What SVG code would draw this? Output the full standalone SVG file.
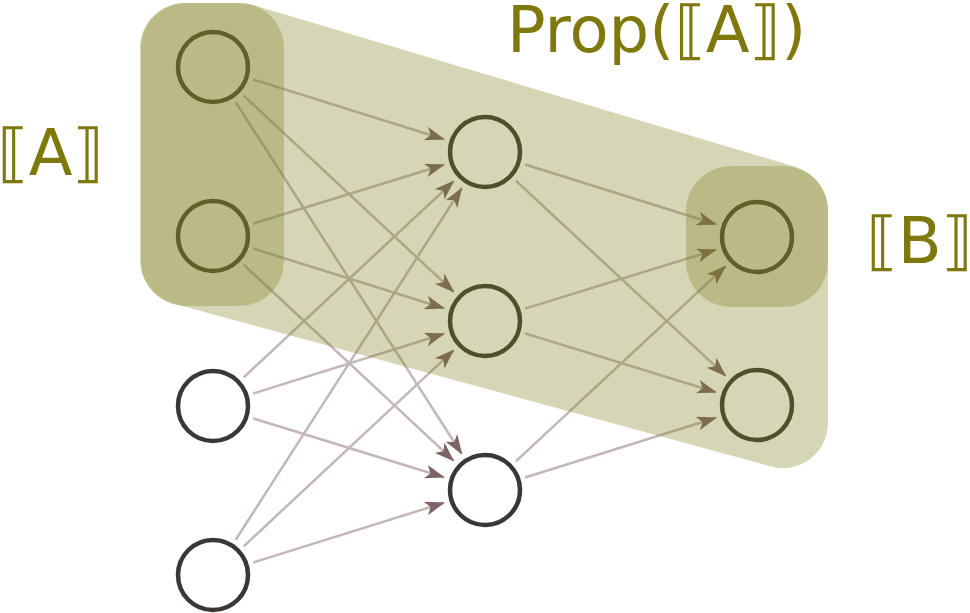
<svg xmlns="http://www.w3.org/2000/svg" width="970" height="613" viewBox="0 0 970 613">
<style>
.edge{stroke:#c3b7b7;stroke-width:2.5;fill:none;marker-end:url(#ah)}
.node{fill:#ffffff;stroke:#3b3735;stroke-width:4.5}
.ov{fill:#7f7f1e;fill-opacity:0.32}
.lbl{font-family:"DejaVu Sans",sans-serif;font-size:64px;fill:#7f780c}
</style>
<defs>
<marker id="ah" markerUnits="userSpaceOnUse" markerWidth="20" markerHeight="14" viewBox="0 0 20 14" refX="19" refY="7" orient="auto">
<path d="M0,0 L20,7 L0,14 L5,7 z" fill="#7d6363"/>
</marker>
</defs>
<rect width="970" height="613" fill="#ffffff"/>
<g id="connectors">
<line class="edge" x1="253.1" y1="79.5" x2="444" y2="139.2"/>
<line class="edge" x1="243.7" y1="95.7" x2="453.6" y2="291.7"/>
<line class="edge" x1="235.7" y1="102.3" x2="461.7" y2="453.8"/>
<line class="edge" x1="253.1" y1="223.6" x2="443.9" y2="164.7"/>
<line class="edge" x1="253.1" y1="248.5" x2="444" y2="308.2"/>
<line class="edge" x1="243.7" y1="264.7" x2="453.6" y2="460.7"/>
<line class="edge" x1="243.7" y1="377.3" x2="453.6" y2="181.3"/>
<line class="edge" x1="253.1" y1="393.5" x2="444" y2="333.8"/>
<line class="edge" x1="253.1" y1="418.4" x2="443.9" y2="477.3"/>
<line class="edge" x1="235.7" y1="539.7" x2="461.7" y2="188.2"/>
<line class="edge" x1="243.7" y1="546.3" x2="453.6" y2="350.3"/>
<line class="edge" x1="253.1" y1="562.5" x2="444" y2="502.8"/>
<line class="edge" x1="525.1" y1="164.5" x2="716" y2="224.2"/>
<line class="edge" x1="515.8" y1="180.6" x2="725.5" y2="375.7"/>
<line class="edge" x1="525.1" y1="308.6" x2="715.9" y2="249.7"/>
<line class="edge" x1="525.1" y1="333.4" x2="715.9" y2="392.3"/>
<line class="edge" x1="515.8" y1="461.4" x2="725.5" y2="266.3"/>
<line class="edge" x1="525.1" y1="477.5" x2="716" y2="417.8"/>
</g>
<g id="in1"><circle class="node" cx="213" cy="67" r="35"/></g>
<g id="in2"><circle class="node" cx="213" cy="236" r="35"/></g>
<g id="in3"><circle class="node" cx="213" cy="406" r="35"/></g>
<g id="in4"><circle class="node" cx="213" cy="575" r="35"/></g>
<g id="h1"><circle class="node" cx="485" cy="152" r="35"/></g>
<g id="h2"><circle class="node" cx="485" cy="321" r="35"/></g>
<g id="h3"><circle class="node" cx="485" cy="490" r="35"/></g>
<g id="out1"><circle class="node" cx="757" cy="237" r="35"/></g>
<g id="out2"><circle class="node" cx="757" cy="405" r="35"/></g>
<g id="propA">
<path class="ov" d="M252.9,4.9 L795.9,166.9 A45,45 0 0 1 828,210 L828,423 A45,45 0 0 1 771.2,466.4 L173.2,303.4 A45,45 0 0 1 140,260 L140,48 A45,45 0 0 1 185,3 L240,3 A45,45 0 0 1 252.9,4.9 Z"/>
<text class="lbl" x="507" y="52">Prop(⟦A⟧)</text>
</g>
<g id="setA">
<rect class="ov" x="141" y="3" width="143" height="303" rx="45" ry="45"/>
<text class="lbl" x="-3" y="175">⟦A⟧</text>
</g>
<g id="setB">
<rect class="ov" x="686" y="166" width="142" height="141" rx="45" ry="45"/>
<text class="lbl" x="866" y="263">⟦B⟧</text>
</g>
</svg>
